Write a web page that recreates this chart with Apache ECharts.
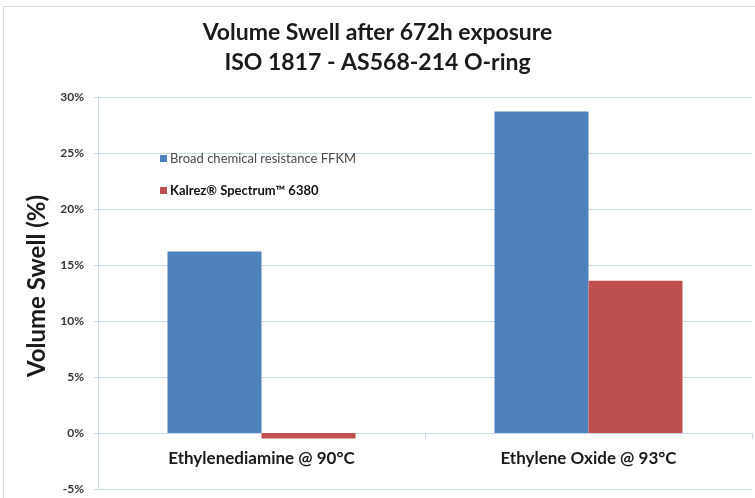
<!DOCTYPE html>
<html>
<head>
<meta charset="utf-8">
<script src="https://cdn.jsdelivr.net/npm/echarts@6/dist/echarts.min.js"></script>
<style>
  html, body { margin: 0; padding: 0; background: #fff; }
  #main { width: 755px; height: 498px; }
</style>
</head>
<body>
<div id="main"></div>
<script>
  // data
  var categories = ['Ethylenediamine @ 90°C', 'Ethylene Oxide @ 93°C'];
  var seriesNames = ['Broad chemical resistance FFKM', 'Kalrez® Spectrum™ 6380'];
  var ffkmValues = [16.2, 28.7];
  var kalrezValues = [-0.5, 13.6];
  var yMin = -5, yMax = 30, yStep = 5;

  var font = 'Lato, "Open Sans", sans-serif';
  var gridColor = '#c9dcea';

  var chart = echarts.init(document.getElementById('main'));
  chart.setOption({
    animation: false,
    backgroundColor: '#fff',
    graphic: [{
      type: 'rect',
      shape: { x: 3.5, y: 6.5, width: 800, height: 800 },
      style: { fill: 'none', stroke: '#d9d9d9', lineWidth: 1 },
      silent: true
    }],
    title: {
      text: 'Volume Swell after 672h exposure\nISO 1817 - AS568-214 O-ring',
      left: 'center',
      top: 13,
      textStyle: {
        fontFamily: font,
        fontWeight: 'bold',
        fontSize: 23,
        lineHeight: 30,
        color: '#1a1a1a'
      }
    },
    legend: {
      orient: 'vertical',
      left: 155,
      top: 147,
      itemWidth: 7,
      itemHeight: 7,
      itemGap: 19,
      icon: 'rect',
      data: [
        { name: seriesNames[0], textStyle: { color: '#4a4a4a', fontWeight: 'normal' } },
        { name: seriesNames[1], textStyle: { color: '#111', fontWeight: 'bold' } }
      ],
      textStyle: { fontFamily: font, fontSize: 13, padding: [0, 0, 0, -2] }
    },
    grid: [
      { left: 98, right: 3, top: 97, bottom: 9, outerBoundsMode: 'none', containLabel: false },
      // label row sitting on the 0% line
      { left: 98, right: 3, top: 97, height: 336, outerBoundsMode: 'none', containLabel: false }
    ],
    xAxis: [
      {
        type: 'category',
        gridIndex: 0,
        data: categories,
        axisLine: { onZero: true, lineStyle: { color: gridColor } },
        axisTick: { show: true, length: 6, lineStyle: { color: gridColor } },
        axisLabel: { show: false }
      },
      {
        type: 'category',
        gridIndex: 1,
        data: categories,
        axisLine: { show: false },
        axisTick: { show: false },
        axisLabel: {
          margin: 17,
          fontFamily: font,
          fontWeight: 'bold',
          fontSize: 17,
          color: '#1a1a1a'
        }
      }
    ],
    yAxis: [
      {
        type: 'value',
        gridIndex: 0,
        min: yMin,
        max: yMax,
        interval: yStep,
        name: 'Volume Swell (%)',
        nameLocation: 'middle',
        nameGap: 41,
        nameTextStyle: {
          fontFamily: font,
          fontWeight: 'bold',
          fontSize: 24,
          color: '#1a1a1a',
          padding: [0, 0, 0, 14]
        },
        axisLine: { show: true, lineStyle: { color: gridColor } },
        axisTick: { show: true, length: 4, lineStyle: { color: gridColor } },
        splitLine: { show: true, lineStyle: { color: gridColor } },
        axisLabel: {
          margin: 14,
          formatter: '{value}%',
          fontFamily: font,
          fontWeight: 'bold',
          fontSize: 12,
          color: '#333'
        }
      },
      {
        type: 'value',
        gridIndex: 1,
        min: 0,
        max: yMax,
        show: false
      }
    ],
    series: [
      {
        name: seriesNames[0],
        type: 'bar',
        data: ffkmValues,
        barWidth: 94,
        barGap: '0%',
        itemStyle: { color: '#4f81bd' }
      },
      {
        name: seriesNames[1],
        type: 'bar',
        data: kalrezValues,
        barWidth: 94,
        barGap: '0%',
        itemStyle: { color: '#c0504d' }
      }
    ]
  });
</script>
</body>
</html>
